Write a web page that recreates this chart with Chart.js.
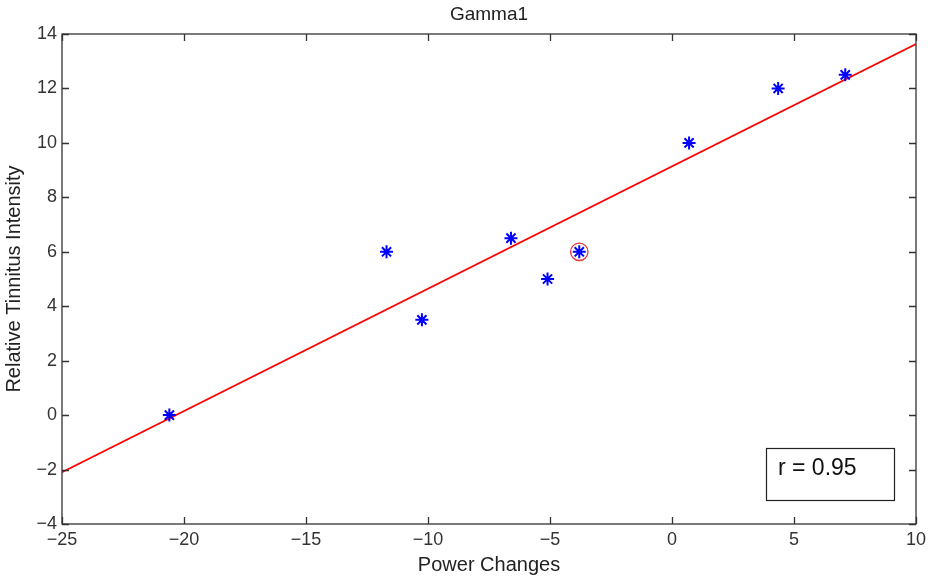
<!doctype html>
<html lang="en">
  <head>
    <meta charset="UTF-8" />
    <title>Gamma1</title>
    <style>
      html, body { margin: 0; padding: 0; background: white; }
      .wrap { width: 928px; height: 577px; position: relative; }
    </style>
  </head>
  <body>
    <div class="wrap"><canvas id="myChart" width="928" height="577"></canvas></div>
    <script src="https://cdn.jsdelivr.net/npm/chart.js"></script>
    <script>
      // values
      var powerChanges = [-20.6, -11.7, -10.25, -6.6, -5.1, -3.8, 0.7, 4.35, 7.1];
      var tinnitus = [0, 6, 3.5, 6.5, 5, 6, 10, 12, 12.5];
      var fitX = [-25, 10];
      var fitY = [-2.1, 13.63];
      var circledIndex = 5;
      var rText = "r = 0.95";
      var titleText = "Gamma1";

      var points = powerChanges.map(function (x, i) { return { x: x, y: tinnitus[i] }; });
      var fitLine = fitX.map(function (x, i) { return { x: x, y: fitY[i] }; });

      var axisColor = "#333333";
      var font = "Liberation Sans, Arial, sans-serif";

      function minus(v) { return String(v).replace("-", "\u2212"); }

      // box, inward ticks, title and r box
      var matlabBox = {
        id: "matlabBox",
        afterDraw: function (chart) {
          var c = chart.ctx, a = chart.chartArea;
          var xs = chart.scales.x, ys = chart.scales.y;
          c.save();
          c.strokeStyle = axisColor;
          c.lineWidth = 1.3;
          c.strokeRect(a.left, a.top, a.right - a.left, a.bottom - a.top);
          var tl = 7;
          c.beginPath();
          xs.ticks.forEach(function (t) {
            var px = Math.round(xs.getPixelForValue(t.value)) + 0.5;
            c.moveTo(px, a.bottom); c.lineTo(px, a.bottom - tl);
            c.moveTo(px, a.top); c.lineTo(px, a.top + tl);
          });
          ys.ticks.forEach(function (t) {
            var py = Math.round(ys.getPixelForValue(t.value)) + 0.5;
            c.moveTo(a.left, py); c.lineTo(a.left + tl, py);
            c.moveTo(a.right, py); c.lineTo(a.right - tl, py);
          });
          c.stroke();

          c.fillStyle = "#222222";
          c.font = "19px " + font;
          c.textAlign = "center";
          c.textBaseline = "middle";
          c.fillText(titleText, (a.left + a.right) / 2, 15);

          // r box
          c.fillStyle = "white";
          c.fillRect(766, 448, 128, 52);
          c.strokeStyle = "#222222";
          c.lineWidth = 1.2;
          c.strokeRect(766.5, 448.5, 128, 52);
          c.fillStyle = "#111111";
          c.font = "23px " + font;
          c.textAlign = "left";
          c.fillText(rText, 778, 469);
          c.restore();
        }
      };

      var ctx = document.getElementById("myChart").getContext("2d");
      var myChart = new Chart(ctx, {
        type: "scatter",
        data: {
          datasets: [
            {
              label: "data",
              data: points,
              pointStyle: "star",
              pointRadius: 6.5,
              borderColor: "#0000ff",
              backgroundColor: "#0000ff",
              pointBorderWidth: 2,
              order: 1
            },
            {
              label: "circled",
              data: [points[circledIndex]],
              pointStyle: "circle",
              pointRadius: 8.7,
              borderColor: "rgba(230,30,30,0.9)",
              backgroundColor: "rgba(0,0,0,0)",
              pointBorderWidth: 1.3,
              order: 0
            },
            {
              type: "line",
              label: "fit",
              data: fitLine,
              borderColor: "#ff0000",
              borderWidth: 1.8,
              pointRadius: 0,
              fill: false,
              order: 2
            }
          ]
        },
        options: {
          responsive: false,
          animation: false,
          layout: { padding: { left: 0, right: 12, top: 34, bottom: 0 } },
          plugins: {
            legend: { display: false },
            tooltip: { enabled: false }
          },
          scales: {
            x: {
              type: "linear",
              min: -25,
              max: 10,
              afterFit: function (s) { s.height = 53; s.paddingLeft = 0; s.paddingRight = 0; },
              ticks: {
                stepSize: 5,
                color: axisColor,
                padding: 5,
                font: { family: font, size: 18 },
                callback: function (v) { return minus(v); }
              },
              grid: { display: false, drawTicks: false },
              border: { display: false },
              title: {
                display: true,
                text: "Power Changes",
                color: "#222222",
                font: { family: font, size: 20 },
                padding: { top: 0, bottom: 0 }
              }
            },
            y: {
              type: "linear",
              min: -4,
              max: 14,
              afterFit: function (s) { s.width = 62; s.paddingTop = 0; s.paddingBottom = 0; },
              ticks: {
                stepSize: 2,
                color: axisColor,
                padding: 5,
                font: { family: font, size: 18 },
                callback: function (v) { return minus(v); }
              },
              grid: { display: false, drawTicks: false },
              border: { display: false },
              title: {
                display: true,
                text: "Relative Tinnitus Intensity",
                color: "#222222",
                font: { family: font, size: 20 },
                padding: { top: 2.5, bottom: 0 }
              }
            }
          }
        },
        plugins: [matlabBox]
      });
    </script>
  </body>
</html>
